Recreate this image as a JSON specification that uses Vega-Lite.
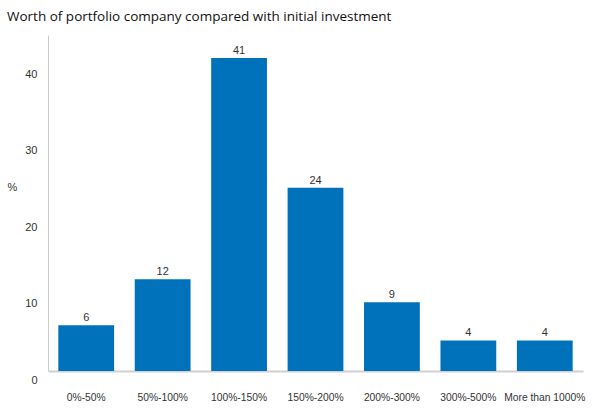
{
  "$schema": "https://vega.github.io/schema/vega-lite/v6.json",
  "autosize": {"type": "none"},
  "width": 535,
  "height": 336,
  "padding": {"left": 48, "top": 35, "right": 17, "bottom": 44},
  "background": "white",
  "title": {
    "text": "Worth of portfolio company compared with initial investment",
    "anchor": "start",
    "frame": "group",
    "dx": -41,
    "offset": 12,
    "font": "Open Sans",
    "fontSize": 13.5,
    "fontWeight": "normal",
    "color": "#111111"
  },
  "data": {
    "values": [
      {"range": "0%-50%", "pct": 6},
      {"range": "50%-100%", "pct": 12},
      {"range": "100%-150%", "pct": 41},
      {"range": "150%-200%", "pct": 24},
      {"range": "200%-300%", "pct": 9},
      {"range": "300%-500%", "pct": 4},
      {"range": "More than 1000%", "pct": 4}
    ]
  },
  "config": {"view": {"stroke": null}},
  "encoding": {
    "x": {
      "field": "range",
      "type": "nominal",
      "sort": null,
      "scale": {"paddingInner": 0.27, "paddingOuter": 0.135},
      "axis": {
        "title": null,
        "labelAngle": 0,
        "ticks": false,
        "labelPadding": 21,
        "labelFont": "Liberation Sans",
        "labelFontSize": 10.3,
        "labelColor": "#333333",
        "domainColor": "#d0d0d0",
        "domainWidth": 2
      }
    },
    "y": {
      "field": "pct",
      "type": "quantitative",
      "scale": {"domain": [0, 44], "nice": false},
      "axis": {
        "values": [0, 10, 20, 30, 40],
        "grid": false,
        "ticks": false,
        "labelPadding": 11,
        "labelOffset": 9,
        "labelFont": "Liberation Sans",
        "labelFontSize": 11,
        "labelColor": "#333333",
        "domainColor": "#cccccc",
        "domainWidth": 1,
        "title": "%",
        "titleAngle": 0,
        "titleX": -36,
        "titleY": 157,
        "titleFont": "Liberation Sans",
        "titleFontSize": 11,
        "titleFontWeight": "normal",
        "titleColor": "#333333"
      }
    }
  },
  "layer": [
    {"mark": {"type": "bar", "color": "#0072bc"}},
    {
      "mark": {"type": "text", "dy": -7, "font": "Liberation Sans", "fontSize": 11, "color": "#333333"},
      "encoding": {"text": {"field": "pct", "type": "quantitative"}}
    }
  ]
}
